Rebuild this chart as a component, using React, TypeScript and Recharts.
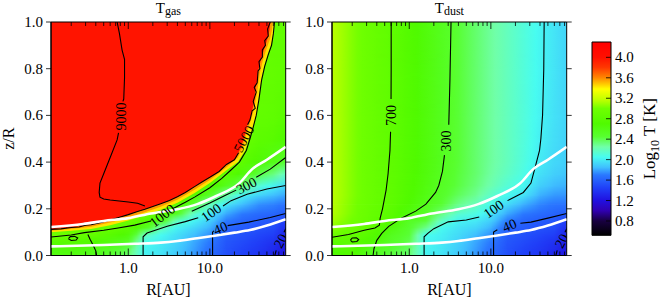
import React from 'react';
import { ComposedChart, XAxis, YAxis, Line, Area, Scatter, ReferenceArea, Label } from 'recharts';

// ---- axes ----
const R_MIN = 0.113;
const R_MAX = 85;
const T_MIN = 0.52;
const T_MAX = 4.3;

const xTicks = [0.2, 0.3, 0.4, 0.5, 0.6, 0.7, 0.8, 0.9, 1, 2, 3, 4, 5, 6, 7, 8, 9, 10, 20, 30, 40, 50, 60, 70, 80];
const xLabelled = [1, 10];
const yTicks = [0, 0.2, 0.4, 0.6, 0.8, 1.0];
const barTicks = [0.8, 1.2, 1.6, 2.0, 2.4, 2.8, 3.2, 3.6, 4.0];

// ---- gridded log10 T ----
const gridR = [0.113, 0.2, 0.35, 0.6, 1.0, 1.6, 2.5, 4, 6.5, 10, 16, 25, 40, 60, 85];
const gridZ = [0, 0.03, 0.06, 0.09, 0.12, 0.15, 0.18, 0.22, 0.26, 0.3, 0.35, 0.4, 0.5, 0.6, 0.8, 1.0];

// one column per R, values from z=0 upward
const gasLogT = [
  [2.6, 2.65, 2.8, 3.0, 2.9, 2.9, 2.9, 2.9, 2.9, 2.9, 2.9, 2.9, 2.9, 2.9, 2.9, 2.9],
  [2.6, 2.65, 2.78, 2.95, 2.9, 2.9, 2.9, 2.9, 2.9, 2.9, 2.9, 2.9, 2.9, 2.9, 2.9, 2.9],
  [2.55, 2.6, 2.72, 2.88, 2.95, 2.9, 2.9, 2.9, 2.9, 2.9, 2.9, 2.9, 2.9, 2.9, 2.9, 2.9],
  [2.45, 2.5, 2.62, 2.78, 2.92, 2.95, 2.9, 2.9, 2.9, 2.9, 2.9, 2.9, 2.9, 2.9, 2.9, 2.9],
  [2.35, 2.4, 2.5, 2.65, 2.82, 2.95, 2.95, 2.9, 2.9, 2.9, 2.9, 2.9, 2.9, 2.9, 2.9, 2.9],
  [2.02, 2.03, 2.07, 2.2, 2.55, 2.8, 2.95, 2.9, 2.9, 2.9, 2.9, 2.9, 2.9, 2.9, 2.9, 2.9],
  [1.97, 1.98, 2.0, 2.05, 2.22, 2.55, 2.8, 2.95, 2.9, 2.9, 2.9, 2.9, 2.9, 2.9, 2.9, 2.9],
  [1.88, 1.89, 1.92, 1.95, 2.02, 2.17, 2.5, 2.82, 2.95, 2.9, 2.9, 2.9, 2.9, 2.9, 2.9, 2.9],
  [1.77, 1.78, 1.8, 1.85, 1.92, 2.02, 2.15, 2.45, 2.75, 2.92, 2.9, 2.9, 2.9, 2.9, 2.9, 2.9],
  [1.66, 1.67, 1.7, 1.75, 1.82, 1.9, 1.98, 2.2, 2.5, 2.78, 2.95, 2.9, 2.9, 2.9, 2.9, 2.9],
  [1.52, 1.53, 1.55, 1.58, 1.63, 1.7, 1.8, 1.98, 2.25, 2.55, 2.82, 2.95, 2.9, 2.9, 2.9, 2.9],
  [1.46, 1.47, 1.5, 1.53, 1.57, 1.62, 1.7, 1.85, 2.02, 2.35, 2.65, 2.82, 2.95, 2.9, 2.9, 2.9],
  [1.4, 1.41, 1.44, 1.48, 1.53, 1.58, 1.64, 1.75, 1.92, 2.12, 2.42, 2.68, 2.82, 2.88, 2.9, 2.9],
  [1.32, 1.34, 1.38, 1.44, 1.5, 1.55, 1.62, 1.72, 1.85, 2.02, 2.32, 2.58, 2.78, 2.85, 2.88, 2.88],
  [1.22, 1.25, 1.28, 1.31, 1.36, 1.45, 1.58, 1.68, 1.8, 1.94, 2.18, 2.45, 2.7, 2.8, 2.85, 2.85],
];

const dustLogT = [
  [2.68, 2.73, 2.82, 2.96, 3.06, 3.11, 3.14, 3.15, 3.16, 3.16, 3.16, 3.16, 3.16, 3.16, 3.16, 3.16],
  [2.72, 2.76, 2.82, 2.88, 2.96, 3.0, 3.02, 3.03, 3.04, 3.04, 3.04, 3.04, 3.04, 3.04, 3.04, 3.04],
  [2.5, 2.55, 2.68, 2.76, 2.84, 2.88, 2.9, 2.92, 2.93, 2.93, 2.93, 2.93, 2.93, 2.93, 2.93, 2.93],
  [2.42, 2.45, 2.5, 2.55, 2.64, 2.75, 2.8, 2.83, 2.84, 2.845, 2.845, 2.845, 2.845, 2.845, 2.845, 2.845],
  [2.35, 2.37, 2.4, 2.44, 2.47, 2.52, 2.62, 2.69, 2.72, 2.73, 2.74, 2.74, 2.74, 2.74, 2.74, 2.74],
  [2.02, 2.03, 2.04, 2.06, 2.3, 2.44, 2.49, 2.56, 2.6, 2.62, 2.63, 2.64, 2.64, 2.64, 2.64, 2.64],
  [1.97, 1.98, 1.99, 2.01, 2.04, 2.17, 2.32, 2.45, 2.48, 2.51, 2.53, 2.54, 2.54, 2.54, 2.54, 2.54],
  [1.88, 1.89, 1.91, 1.94, 1.97, 2.02, 2.14, 2.3, 2.38, 2.42, 2.43, 2.44, 2.44, 2.44, 2.44, 2.44],
  [1.77, 1.78, 1.8, 1.85, 1.92, 1.99, 2.08, 2.2, 2.29, 2.33, 2.35, 2.35, 2.35, 2.35, 2.35, 2.35],
  [1.66, 1.67, 1.7, 1.75, 1.82, 1.9, 1.97, 2.05, 2.16, 2.23, 2.26, 2.27, 2.27, 2.27, 2.27, 2.27],
  [1.52, 1.53, 1.55, 1.58, 1.62, 1.7, 1.8, 1.94, 2.04, 2.12, 2.17, 2.19, 2.19, 2.19, 2.19, 2.19],
  [1.46, 1.47, 1.5, 1.53, 1.57, 1.62, 1.7, 1.82, 1.97, 2.04, 2.08, 2.1, 2.11, 2.11, 2.11, 2.11],
  [1.4, 1.41, 1.44, 1.48, 1.53, 1.58, 1.64, 1.73, 1.82, 1.9, 1.96, 1.99, 2.01, 2.02, 2.03, 2.03],
  [1.32, 1.34, 1.38, 1.44, 1.5, 1.55, 1.61, 1.69, 1.77, 1.84, 1.9, 1.93, 1.95, 1.96, 1.97, 1.97],
  [1.22, 1.25, 1.28, 1.31, 1.36, 1.45, 1.58, 1.68, 1.76, 1.82, 1.87, 1.9, 1.91, 1.92, 1.92, 1.92],
];

// colour map (value, colour)
const cmapValues = [0.52, 0.8, 1.0, 1.2, 1.45, 1.7, 1.85, 2.05, 2.25, 2.45, 2.7, 3.0, 3.15, 3.38, 3.6, 3.8, 4.0, 4.3];
const cmapColors = ['#000000', '#180040', '#3000b0', '#2010e0', '#2040f8', '#2a78ff', '#40c0ff', '#48fcf0', '#70ffa8', '#58ff30', '#50fa00', '#70ff00', '#b8ff00', '#ffff00', '#ff8800', '#ff3800', '#ff1000', '#ff0000'];

// ---- Tgas hot region ----
const redEdge: [number, number][] = [
  [0.113, 0.112], [0.2, 0.12], [0.3, 0.13], [0.45, 0.14], [0.6, 0.152], [0.8, 0.165], [1.0, 0.175], [1.3, 0.188],
  [1.6, 0.198], [2.0, 0.21], [2.5, 0.222], [3.2, 0.236], [4.0, 0.252], [5.0, 0.27], [6.5, 0.295], [8, 0.315],
  [10, 0.335], [13, 0.36], [16, 0.39], [20, 0.41], [24, 0.46], [26, 0.5], [29, 0.56], [31, 0.58], [33, 0.62],
  [35, 0.66], [36, 0.71], [38, 0.75], [39, 0.79], [41, 0.82], [44, 0.86], [48, 0.9], [52, 0.94], [54, 0.97], [55, 1.0],
];
const orangeEdge: [number, number][] = [
  [0.113, 0.106], [0.2, 0.113], [0.35, 0.123], [0.6, 0.141], [1.0, 0.162], [1.6, 0.185], [2.5, 0.209], [4, 0.239],
  [6.5, 0.282], [10, 0.323], [16, 0.378], [22, 0.42], [26, 0.47], [28, 0.52], [32, 0.58], [35, 0.63], [38, 0.7],
  [41, 0.78], [45, 0.84], [50, 0.89], [55, 0.93], [58, 0.97], [59, 1.0],
];
const yellowEdge: [number, number][] = [
  [0.113, 0.1], [0.2, 0.106], [0.35, 0.114], [0.6, 0.13], [1.0, 0.15], [1.6, 0.172], [2.5, 0.196], [4, 0.226],
  [6.5, 0.268], [10, 0.31], [16, 0.365], [22, 0.4], [27, 0.45], [30, 0.5], [33, 0.54], [37, 0.6], [40, 0.68],
  [43, 0.76], [47, 0.82], [52, 0.87], [57, 0.91], [60, 0.95], [62, 1.0],
];

// ---- contours ----
type P = [number, number | null];
const gas9000: P[] = [[0.73, 1.0], [0.78, 0.95], [0.84, 0.88], [0.9, 0.84], [0.9, 0.76], [0.88, 0.67], [0.86, 0.66], [0.8, null], [0.76, 0.525], [0.73, 0.495], [0.6, 0.42], [0.5, 0.35], [0.45, 0.31], [0.44, 0.27], [0.45, 0.25], [0.5, 0.242], [0.6, 0.238], [1.0, 0.229], [1.3, 0.224], [1.6, 0.212]];
const gas5000: P[] = [[0.113, 0.112], [0.15, 0.114], [0.2, 0.12], [0.25, 0.122], [0.3, 0.13], [0.35, 0.132], [0.45, 0.14], [0.6, 0.152], [0.8, 0.165], [1.0, 0.175], [1.3, 0.188], [1.6, 0.198], [2.0, 0.21], [2.5, 0.222], [3.2, 0.236], [4.0, 0.252], [5.0, 0.27], [6.5, 0.295], [8, 0.315], [10, 0.335], [13, 0.36], [16, 0.39], [20, 0.41], [22.5, 0.44], [22.5, null], [29, 0.56], [31, 0.58], [33, 0.62], [36, 0.63], [34, 0.66], [37, 0.7], [35, 0.72], [38, 0.74], [39, 0.79], [41, 0.8], [40, 0.83], [44, 0.85], [44, 0.88], [48, 0.9], [47, 0.92], [52, 0.94], [51, 0.97], [55, 1.0]];
const gas1000: P[] = [[0.113, 0.079], [0.2, 0.088], [0.29, 0.098], [0.5, 0.108], [0.75, 0.118], [1.2, 0.13], [1.9, 0.148], [1.9, null], [3.5, 0.2], [5, 0.228], [6.5, 0.25], [10, 0.29], [14, 0.33], [18, 0.365], [23, 0.4], [28, 0.45], [31, 0.5], [34, 0.55], [37, 0.6], [40, 0.67], [43, 0.75], [47, 0.81], [52, 0.86], [57, 0.9], [60, 0.95], [62, 1.0]];
const gas300: P[] = [[6, 0.19], [10, 0.225], [16, 0.26], [21, 0.28], [21, null], [37, 0.335], [55, 0.37], [85, 0.42]];
const gas100: P[] = [[1.52, 0], [1.52, 0.08], [1.7, 0.096], [3, 0.125], [5, 0.145], [7.2, 0.162], [7.2, null], [14.5, 0.212], [18.2, 0.235], [28.6, 0.262], [50, 0.285], [85, 0.3]];
const gas40: P[] = [[10.8, 0], [10.8, 0.1], [11.2, 0.106], [11.2, null], [16.5, 0.128], [30, 0.143], [55, 0.163], [85, 0.18]];
const gas20: P[] = [[62.5, 0], [65, 0.022], [65, null], [81, 0.1], [85, 0.115]];
const gasLoop: P[] = [[0.185, 0.072], [0.195, 0.081], [0.22, 0.082], [0.24, 0.075], [0.23, 0.066], [0.2, 0.064], [0.185, 0.072]];
const gasLow: P[] = [[0.32, 0.09], [0.34, 0.07], [0.37, 0.045], [0.4, 0.02], [0.41, 0]];

const dust700: P[] = [[0.6, 1.0], [0.6, 0.8], [0.598, 0.67], [0.598, null], [0.59, 0.53], [0.58, 0.45], [0.55, 0.35], [0.52, 0.28], [0.47, 0.2], [0.44, 0.16], [0.43, 0.13], [0.38, 0.118], [0.28, 0.108], [0.18, 0.09], [0.113, 0.078]];
const dust300: P[] = [[3.25, 1.0], [3.15, 0.75], [3.05, 0.56], [3.05, null], [2.7, 0.43], [2.55, 0.36], [2.3, 0.3], [2.1, 0.27], [1.6, 0.22], [1.2, 0.19], [0.8, 0.16], [0.56, 0.125], [0.46, 0.095], [0.4, 0.065], [0.37, 0.03], [0.36, 0]];
const dustLoop: P[] = [[0.19, 0.066], [0.2, 0.075], [0.225, 0.076], [0.24, 0.068], [0.228, 0.06], [0.2, 0.058], [0.19, 0.066]];
const dust100: P[] = [[45, 1.0], [44.5, 0.8], [43, 0.6], [41, 0.5], [39.5, 0.45], [35, 0.38], [31, 0.31], [25, 0.27], [16, 0.235], [16, null], [7.2, 0.165], [5, 0.152], [3, 0.144], [2, 0.115], [1.7, 0.096], [1.52, 0.08], [1.52, 0]];
const dust40: P[] = [[10.8, 0], [10.8, 0.1], [12, 0.11], [12, null], [23, 0.138], [31, 0.143], [50, 0.16], [85, 0.18]];
const dust20: P[] = [[62.5, 0], [65, 0.022], [65, null], [81, 0.1], [85, 0.115]];

// white surfaces (same in both panels)
const whiteUpper: P[] = [[0.113, 0.122], [0.28, 0.135], [0.5, 0.148], [1.0, 0.16], [1.9, 0.18], [4, 0.198], [7, 0.22], [12, 0.255], [23, 0.31], [33, 0.37], [50, 0.41], [85, 0.465]];
const whiteLower: P[] = [[0.113, 0.039], [0.5, 0.045], [1.2, 0.05], [2.5, 0.055], [4, 0.062], [7, 0.074], [12, 0.086], [20, 0.098], [31, 0.109], [50, 0.128], [85, 0.155]];

const gasLabels = [
  { R: 0.81, z: 0.595, text: '9000', angle: -90 },
  { R: 26, z: 0.5, text: '5000', angle: -62 },
  { R: 2.6, z: 0.172, text: '1000', angle: -38 },
  { R: 28, z: 0.3, text: '300', angle: -28 },
  { R: 10.3, z: 0.185, text: '100', angle: -35 },
  { R: 13.5, z: 0.118, text: '40', angle: -22 },
  { R: 73, z: 0.063, text: '20', angle: -62 },
];
const dustLabels = [
  { R: 0.595, z: 0.6, text: '700', angle: -90 },
  { R: 2.85, z: 0.49, text: '300', angle: -90 },
  { R: 10.8, z: 0.2, text: '100', angle: -35 },
  { R: 16.9, z: 0.13, text: '40', angle: -22 },
  { R: 73, z: 0.063, text: '20', angle: -62 },
];

const FONT = '"Liberation Serif", "DejaVu Serif", serif';
const PLOT_W = 234.7;
const PLOT_H = 233.5;

const lg = Math.log10;
const toPts = (a: P[]) => a.map(([R, z]) => ({ R, z }));
const toBand = (a: [number, number][]) => a.map(([R, z]) => ({ R, band: [z, 1] }));

function hex(c: string) {
  return [1, 3, 5].map((i) => parseInt(c.slice(i, i + 2), 16));
}
function cmap(v: number): string {
  if (v <= cmapValues[0]) return cmapColors[0];
  const n = cmapValues.length;
  if (v >= cmapValues[n - 1]) return cmapColors[n - 1];
  let i = 0;
  while (v > cmapValues[i + 1]) i++;
  const t = (v - cmapValues[i]) / (cmapValues[i + 1] - cmapValues[i]);
  const a = hex(cmapColors[i]);
  const b = hex(cmapColors[i + 1]);
  const m = a.map((x, k) => Math.round(x + (b[k] - x) * t));
  return `rgb(${m[0]},${m[1]},${m[2]})`;
}
const xOffset = (R: number) => (lg(R) - lg(R_MIN)) / (lg(R_MAX) - lg(R_MIN));

function rowGradient(id: string, cols: number[][], j: number) {
  const stops: { o: number; c: string }[] = [];
  for (let i = 0; i < gridR.length; i++) {
    const v = cols[i][j];
    const o1 = xOffset(gridR[i]);
    stops.push({ o: o1, c: cmap(v) });
    if (i < gridR.length - 1) {
      const v2 = cols[i + 1][j];
      const o2 = xOffset(gridR[i + 1]);
      for (const t of [0.25, 0.5, 0.75]) stops.push({ o: o1 + (o2 - o1) * t, c: cmap(v + (v2 - v) * t) });
    }
  }
  return (
    <linearGradient key={`${id}-${j}`} id={`${id}-row-${j}`} x1="0" y1="0" x2="1" y2="0">
      {stops.map((s, k) => <stop key={k} offset={s.o} stopColor={s.c} />)}
    </linearGradient>
  );
}

const XTick = (props: any) => {
  const { x, y, payload } = props;
  const v = payload.value;
  const major = xLabelled.includes(v);
  const len = major ? 7 : 4;
  return (
    <g>
      <line x1={x} x2={x} y1={y} y2={y - len} stroke="#000" strokeWidth={0.8} />
      <line x1={x} x2={x} y1={y - PLOT_H} y2={y - PLOT_H + len} stroke="#000" strokeWidth={0.8} />
      {major && (
        <text x={x} y={y + 17.5} textAnchor="middle" fontSize={15} fontFamily={FONT} fill="#000">
          {v.toFixed(1)}
        </text>
      )}
    </g>
  );
};

const YTick = (props: any) => {
  const { x, y, payload } = props;
  return (
    <g>
      <line x1={x - 5} x2={x} y1={y} y2={y} stroke="#000" strokeWidth={0.8} />
      <line x1={x + PLOT_W} x2={x + PLOT_W + 5} y1={y} y2={y} stroke="#000" strokeWidth={0.8} />
      <text x={x - 8} y={y + 5} textAnchor="end" fontSize={15} fontFamily={FONT} fill="#000">
        {payload.value.toFixed(1)}
      </text>
    </g>
  );
};

const BarTick = (props: any) => {
  const { x, y, payload } = props;
  return (
    <g>
      <line x1={x - 5} x2={x} y1={y} y2={y} stroke="#000" strokeWidth={0.8} />
      <text x={x + 4} y={y + 5} textAnchor="start" fontSize={15} fontFamily={FONT} fill="#000">
        {payload.value.toFixed(1)}
      </text>
    </g>
  );
};

const ContourLabel = (props: any) => {
  const { cx, cy, payload } = props;
  return (
    <text x={cx} y={cy} dy={5} transform={`rotate(${payload.angle} ${cx} ${cy})`} textAnchor="middle" fontSize={14} fontFamily={FONT} fill="#000">
      {payload.text}
    </text>
  );
};

interface PanelProps {
  id: string;
  cols: number[][];
  sub: string;
  contours: P[][];
  labels: { R: number; z: number; text: string; angle: number }[];
  hot: boolean;
  showYLabel: boolean;
}

function Panel({ id, cols, sub, contours, labels, hot, showYLabel }: PanelProps) {
  // one band between each pair of grid rows; lower row colour, upper row colour faded in on top
  const bands = gridZ.slice(0, -1).map((z, j) => {
    const z0 = Math.max(0, z - 0.003);
    const z1 = gridZ[j + 1];
    return [
      { R: R_MIN, band: [z0, z1] },
      { R: R_MAX, band: [z0, z1] },
    ];
  });
  return (
    <ComposedChart width={292} height={303} margin={{ top: 22, right: 6.3, bottom: 0, left: 11 }}>
      {bands.map((d, j) => [
        <Area key={`a${j}`} data={d} dataKey="band" type="linear" stroke="none" fill={`url(#${id}-row-${j})`} fillOpacity={1} isAnimationActive={false} />,
        <Area key={`b${j}`} data={d} dataKey="band" type="linear" stroke="none" fill={`url(#${id}-row-${j + 1})`} fillOpacity={1} mask="url(#fadeUp)" isAnimationActive={false} />,
      ])}
      {hot && <Area data={toBand(yellowEdge)} dataKey="band" type="linear" stroke="none" fill="#ffe400" fillOpacity={1} isAnimationActive={false} />}
      {hot && <Area data={toBand(orangeEdge)} dataKey="band" type="linear" stroke="none" fill="#ff9a00" fillOpacity={1} isAnimationActive={false} />}
      {hot && <Area data={toBand(redEdge)} dataKey="band" type="linear" stroke="none" fill="#ff1400" fillOpacity={1} isAnimationActive={false} />}
      {contours.map((c, k) => (
        <Line key={`c${k}`} data={toPts(c)} dataKey="z" type="linear" stroke="#000" strokeWidth={1.1} dot={false} activeDot={false} connectNulls={false} isAnimationActive={false} />
      ))}
      <Line data={toPts(whiteUpper)} dataKey="z" type="monotone" stroke="#fff" strokeWidth={2.6} dot={false} activeDot={false} isAnimationActive={false} />
      <Line data={toPts(whiteLower)} dataKey="z" type="monotone" stroke="#fff" strokeWidth={2.6} dot={false} activeDot={false} isAnimationActive={false} />
      <Scatter data={labels} dataKey="z" shape={ContourLabel} isAnimationActive={false} />
      <ReferenceArea x1={R_MIN} x2={R_MAX} y1={0} y2={1} fill="none" stroke="#000" strokeWidth={1} />
      <XAxis dataKey="R" type="number" scale="log" domain={[R_MIN, R_MAX]} allowDataOverflow ticks={xTicks} interval={0} tick={XTick} tickSize={0} tickMargin={0} tickLine={false} axisLine={{ stroke: '#000' }} height={47.5}>
        <Label
          content={(p: any) => {
            const vb = p.viewBox;
            const cx = vb.x + vb.width / 2;
            return (
              <g fontFamily={FONT} fill="#000">
                <text x={cx} y={vb.y + 39.5} textAnchor="middle" fontSize={16}>R[AU]</text>
                <text x={cx} y={vb.y - PLOT_H - 9} textAnchor="middle" fontSize={15}>
                  T<tspan fontSize={12} dy={2}>{sub}</tspan>
                </text>
              </g>
            );
          }}
        />
      </XAxis>
      <YAxis dataKey="z" type="number" domain={[0, 1]} allowDataOverflow ticks={yTicks} interval={0} tick={YTick} tickSize={0} tickMargin={0} tickLine={false} axisLine={{ stroke: '#000' }} width={40}>
        {showYLabel && (
          <Label
            content={(p: any) => {
              const vb = p.viewBox;
              const cy = vb.y + vb.height / 2;
              return (
                <text x={14} y={cy} transform={`rotate(-90 14 ${cy})`} textAnchor="middle" fontSize={16} fontFamily={FONT} fill="#000">
                  z/R
                </text>
              );
            }}
          />
        )}
      </YAxis>
    </ComposedChart>
  );
}

const barFill = [
  { x: 0, v: [T_MIN, T_MAX] },
  { x: 1, v: [T_MIN, T_MAX] },
];
const barFrame = [
  { x: 0, f: T_MIN },
  { x: 0, f: T_MAX },
  { x: 1, f: T_MAX },
  { x: 1, f: T_MIN },
  { x: 0, f: T_MIN },
];

function ColorBar() {
  return (
    <ComposedChart width={84} height={303} margin={{ top: 42, right: 13, bottom: 67.7, left: 12 }}>
      <Area data={barFill} dataKey="v" type="linear" stroke="none" fill="url(#cbar)" fillOpacity={1} isAnimationActive={false} />
      <Line data={barFrame} dataKey="f" type="linear" stroke="#000" strokeWidth={1} dot={false} activeDot={false} isAnimationActive={false} />
      <XAxis dataKey="x" type="number" domain={[0, 1]} hide />
      <YAxis orientation="right" type="number" domain={[T_MIN, T_MAX]} ticks={barTicks} interval={0} tick={BarTick} tickSize={0} tickMargin={0} tickLine={false} axisLine={false} width={40}>
        <Label
          content={(p: any) => {
            const vb = p.viewBox;
            const cy = vb.y + vb.height / 2;
            const bx = vb.x + 44;
            return (
              <text x={bx} y={cy} transform={`rotate(-90 ${bx} ${cy})`} textAnchor="middle" fontSize={17} fontFamily={FONT} fill="#000">
                Log<tspan fontSize={12} dy={4}>10</tspan>
                <tspan dy={-4}> T [K]</tspan>
              </text>
            );
          }}
        />
      </YAxis>
    </ComposedChart>
  );
}

export default function App() {
  const barStops = cmapValues.map((v, i) => ({ o: (v - T_MIN) / (T_MAX - T_MIN), c: cmapColors[i] }));
  return (
    <div style={{ position: 'absolute', left: 0, top: 0, width: 664, height: 303, background: '#fff' }}>
      <svg width={0} height={0} style={{ position: 'absolute' }}>
        <defs>
          {gridZ.map((_, j) => rowGradient('gas', gasLogT, j))}
          {gridZ.map((_, j) => rowGradient('dust', dustLogT, j))}
          <linearGradient id="cbar" x1="0" y1="1" x2="0" y2="0">
            {barStops.map((s, k) => <stop key={k} offset={s.o} stopColor={s.c} />)}
          </linearGradient>
          <linearGradient id="vfade" x1="0" y1="1" x2="0" y2="0">
            <stop offset="0" stopColor="#fff" stopOpacity={0} />
            <stop offset="1" stopColor="#fff" stopOpacity={1} />
          </linearGradient>
          <mask id="fadeUp" maskUnits="objectBoundingBox" maskContentUnits="objectBoundingBox" x="0" y="0" width="1" height="1">
            <rect x="0" y="0" width="1" height="1" fill="url(#vfade)" />
          </mask>
        </defs>
      </svg>
      <div style={{ position: 'absolute', left: 0, top: 0 }}>
        <Panel id="gas" cols={gasLogT} sub="gas" hot showYLabel
          contours={[gas9000, gas5000, gas1000, gas300, gas100, gas40, gas20, gasLoop, gasLow]} labels={gasLabels} />
      </div>
      <div style={{ position: 'absolute', left: 281, top: 0 }}>
        <Panel id="dust" cols={dustLogT} sub="dust" hot={false} showYLabel={false}
          contours={[dust700, dust300, dust100, dust40, dust20, dustLoop]} labels={dustLabels} />
      </div>
      <div style={{ position: 'absolute', left: 580, top: 0 }}>
        <ColorBar />
      </div>
    </div>
  );
}
